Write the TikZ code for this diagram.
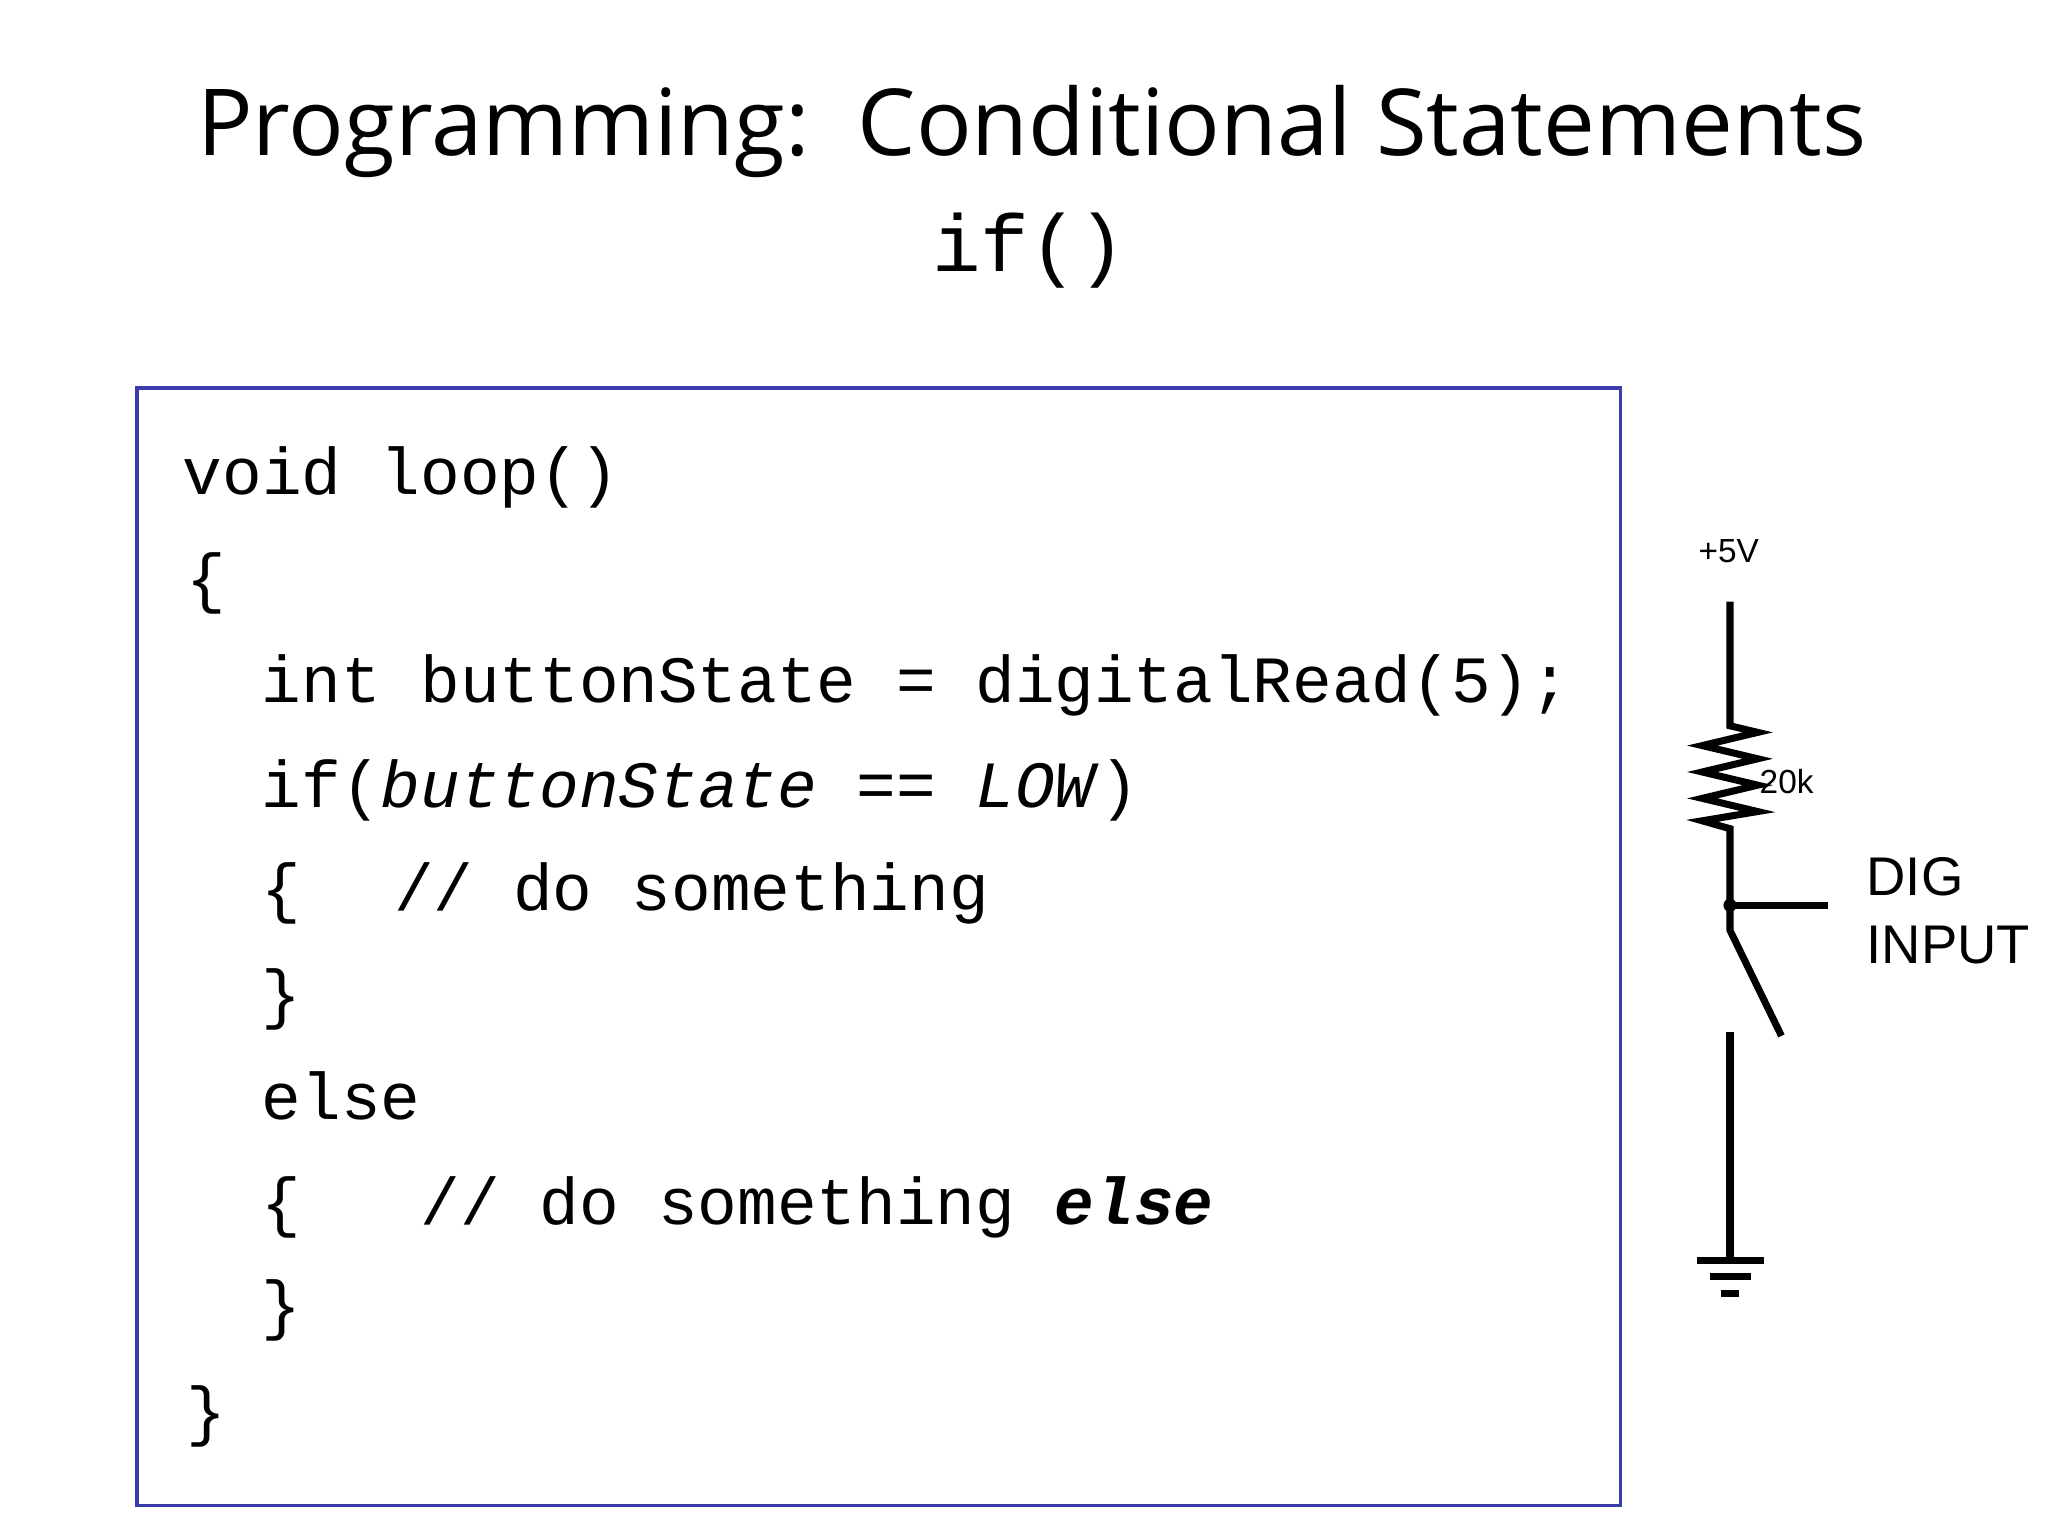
\documentclass[tikz,border=0pt]{standalone}
\usepackage{fontspec}
\setmainfont{Open Sans}
\setmonofont{Liberation Mono}
\newfontfamily\arial{Liberation Sans}
\begin{document}
\begin{tikzpicture}[x=0.013196cm,y=-0.013196cm,
  code/.style={anchor=base west,inner sep=0,font=\fontsize{18.8}{19}\selectfont\ttfamily},
  wire/.style={line width=2pt}]
\useasboundingbox (0,0) rectangle (1552,1164);
\node (title) at (782,100) {\fontsize{26.3}{28}\selectfont Programming:\ \ Conditional Statements};
\node (iff) at (780,190) {\fontsize{23}{23}\selectfont\ttfamily if()};
\draw[draw={rgb,255:red,60;green,60;blue,170},line width=1pt] (104,294) rectangle (1228,1141);
\node[code] (l1) at (138,375) {void loop()};
\node[code] (l2) at (141,455) {\{};
\node[code] (l3) at (198,532) {int buttonState = digitalRead(5);};
\node[code] (l4) at (198,612) {if(\textit{buttonState == LOW})};
\node[code] (l5) at (198,690) {\{\ \ \hspace{0.2em}// do something};
\node[code] (l6) at (198,770) {\}};
\node[code] (l7) at (198,848) {else};
\node[code] (l8) at (198,928) {\{\ \ \ // do something \textbf{\textit{else}}};
\node[code] (l9) at (198,1006) {\}};
\node[code] (l10) at (141,1086) {\}};
% circuit
\node[font=\arial\fontsize{9.5}{10}\selectfont] (v5) at (1310,418) {+5V};
\coordinate (top) at (1311,456);
\coordinate (rt) at (1311,550);
\coordinate (rb) at (1311,628);
\coordinate (jn) at (1311,686);
\coordinate (out) at (1385,686);
\coordinate (sw) at (1311,705);
\coordinate (swe) at (1350,785);
\coordinate (lc) at (1311,782);
\coordinate (gnd) at (1311,955);
\draw[wire] (top) -- (rt) -- (1332,555) -- (1290,565) -- (1332,575) -- (1290,585) -- (1332,595) -- (1290,605) -- (1332,615) -- (1290,622) -- (rb) -- (jn) -- (sw) -- (swe);
\draw[wire] (jn) -- (out);
\fill (jn) circle (5);
\node[font=\arial\fontsize{9.5}{10}\selectfont,anchor=west,inner sep=0] (r20) at (1333,592) {20k};
\node[font=\arial\fontsize{15.5}{19.5}\selectfont,align=left,anchor=west,inner sep=0] (dig) at (1414,690) {DIG\\INPUT};
\draw[wire] (lc) -- (gnd);
\draw[wire] (1286,955) -- (1337,955);
\draw[wire] (1296,967) -- (1327,967);
\draw[wire] (1304,980) -- (1318,980);
\end{tikzpicture}
\end{document}
